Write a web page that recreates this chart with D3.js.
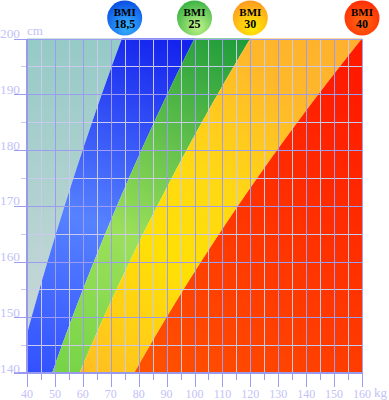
<!DOCTYPE html>
<html><head><meta charset="utf-8">
<script src="https://cdn.jsdelivr.net/npm/d3@7"></script>
<style>body{margin:0;background:#fff}svg{display:block}</style>
</head><body>
<svg id="c" width="389" height="400"></svg>
<script>
// ---- data ----
const bmiBands = [0, 18.5, 25, 30, 40, Infinity];
const bandNames = ["under", "normal", "over", "obese", "severe"];
const bmiLabels = ["18,5", "25", "30", "40"];
const bmiLabelWeights = [75, 100, 120, 160];
const weightTicks = [40, 50, 60, 70, 80, 90, 100, 110, 120, 130, 140, 150, 160];
const heightTicks = [140, 150, 160, 170, 180, 190, 200];
const heightSamples = d3.range(140, 200.001, 0.25);

const svg = d3.select("#c");
const x = d3.scaleLinear().domain([40, 160]).range([27, 362]);
const y = d3.scaleLinear().domain([140, 200]).range([373, 38.5]);
const defs = svg.append("defs");

function lin(id, x1, y1, x2, y2, stops) {
  const g = defs.append("linearGradient").attr("id", id).attr("gradientUnits", "userSpaceOnUse")
    .attr("x1", x1).attr("y1", y1).attr("x2", x2).attr("y2", y2);
  stops.forEach(s => g.append("stop").attr("offset", s[0]).attr("stop-color", s[1]));
}
function rad(id, cx, cy, stops) {
  const g = defs.append("radialGradient").attr("id", id).attr("cx", cx).attr("cy", cy).attr("r", "0.75");
  stops.forEach(s => g.append("stop").attr("offset", s[0]).attr("stop-color", s[1]));
}
lin("g-under", 0, 38, 0, 373, [[0, "#95cac6"], [1, "#cfdada"]]);
lin("g-normal", 160, 38, 40, 373, [[0, "#1424ee"], [0.55, "#5682ff"], [1, "#3352ff"]]);
lin("g-over", 240, 38, 60, 373, [[0, "#1e9c3a"], [0.6, "#9ce05a"], [1, "#76d446"]]);
lin("g-obese", 360, 38, 60, 373, [[0, "#ffb02e"], [0.2, "#ffb82a"], [0.45, "#ffd814"], [0.65, "#ffe004"], [0.85, "#ffcc18"], [1, "#ffb826"]]);
lin("g-severe", 120, 373, 362, 80, [[0, "#ff5400"], [1, "#ff1a00"]]);

rad("c0", "0.55", "0.75", [[0, "#36b4ff"], [1, "#0a4ee4"]]);
rad("c1", "0.6", "0.75", [[0, "#c0f488"], [1, "#3cb444"]]);
rad("c2", "0.55", "0.75", [[0, "#fff000"], [1, "#ff9a22"]]);
rad("c3", "0.5", "0.6", [[0, "#ff6a14"], [1, "#ff1e00"]]);

const clampW = w => Math.max(40, Math.min(160, w));
const area = d3.area()
  .y(h => y(h))
  .curve(d3.curveLinear);

bandNames.forEach((name, i) => {
  const lo = bmiBands[i], hi = bmiBands[i + 1];
  area.x0(h => x(clampW(lo * (h / 100) ** 2)))
      .x1(h => x(clampW(hi === Infinity ? 160 : hi * (h / 100) ** 2)));
  svg.append("path").datum(heightSamples).attr("d", area).attr("fill", `url(#g-${name})`);
});

// grid
const minorW = d3.range(45, 160, 10), majorW = d3.range(50, 160, 10);
const minorH = d3.range(145, 200, 10), majorH = d3.range(150, 200, 10);
const px = v => Math.round(v) + 0.5;
const grid = svg.append("g").attr("shape-rendering", "crispEdges");
grid.selectAll(".mv").data(minorW).join("line")
  .attr("x1", d => px(x(d))).attr("x2", d => px(x(d))).attr("y1", y(200)).attr("y2", y(140))
  .attr("stroke", "#cacaec").attr("stroke-width", 1);
grid.selectAll(".mh").data(minorH).join("line")
  .attr("y1", d => px(y(d))).attr("y2", d => px(y(d))).attr("x1", 21).attr("x2", x(160))
  .attr("stroke", "#cacaec").attr("stroke-width", 1);
grid.selectAll(".Mv").data(majorW).join("line")
  .attr("x1", d => px(x(d))).attr("x2", d => px(x(d))).attr("y1", y(200)).attr("y2", y(140))
  .attr("stroke", "#9c9cf0").attr("stroke-width", 1);
grid.selectAll(".Mh").data(majorH).join("line")
  .attr("y1", d => px(y(d))).attr("y2", d => px(y(d))).attr("x1", 14).attr("x2", x(160))
  .attr("stroke", "#9c9cf0").attr("stroke-width", 1);
// borders
grid.append("line").attr("x1", 14).attr("x2", x(160) + 1).attr("y1", px(y(200))).attr("y2", px(y(200)))
  .attr("stroke", "#9c9cf0");
grid.append("line").attr("x1", px(x(160))).attr("x2", px(x(160))).attr("y1", y(200)).attr("y2", y(140))
  .attr("stroke", "#a0a0f4");
grid.append("line").attr("x1", 14).attr("x2", x(160) + 1).attr("y1", y(140)).attr("y2", y(140))
  .attr("stroke", "#9999ee").attr("stroke-width", 2);
grid.append("line").attr("x1", x(40)).attr("x2", x(40)).attr("y1", y(200)).attr("y2", y(140))
  .attr("stroke", "#9999ee").attr("stroke-width", 2);
// bottom ticks
grid.selectAll(".bt").data(d3.range(40, 161, 5)).join("line")
  .attr("x1", d => px(x(d))).attr("x2", d => px(x(d)))
  .attr("y1", y(140)).attr("y2", d => d % 10 === 0 ? 387 : 380)
  .attr("stroke", "#9c9cf0").attr("stroke-width", d => d % 10 === 0 ? 1.5 : 1);

// labels
const lblColor = "#c2c2f8";
const font = "'Liberation Serif', 'DejaVu Serif', serif";
svg.selectAll(".xl").data(weightTicks).join("text")
  .attr("x", d => x(d)).attr("y", 397.5).attr("text-anchor", "middle")
  .attr("font-family", font).attr("font-size", 12).attr("fill", lblColor).text(d => d);
svg.append("text").attr("x", 374).attr("y", 396.5).attr("font-family", font).attr("font-size", 13)
  .attr("fill", lblColor).text("kg");
svg.selectAll(".yl").data(heightTicks).join("text")
  .attr("x", 0).attr("y", d => y(d) - 0.5)
  .attr("font-family", font).attr("font-size", 12).attr("fill", lblColor)
  .attr("textLength", 20).attr("lengthAdjust", "spacingAndGlyphs").text(d => d);
svg.append("text").attr("x", 27).attr("y", 35).attr("font-family", font).attr("font-size", 13)
  .attr("fill", lblColor).text("cm");

// BMI circles
const circ = svg.selectAll(".bmi").data(bmiLabels).join("g")
  .attr("transform", (d, i) => `translate(${x(bmiLabelWeights[i])},18)`);
circ.append("circle").attr("r", 17.5).attr("fill", (d, i) => `url(#c${i})`);
circ.append("text").attr("y", -2).attr("text-anchor", "middle").attr("font-family", font)
  .attr("font-weight", "bold").attr("font-size", 11).attr("fill", "#000").text("BMI");
circ.append("text").attr("y", 9.5).attr("text-anchor", "middle").attr("font-family", font)
  .attr("font-weight", "bold").attr("font-size", 12).attr("fill", "#000").text(d => d);
</script>
</body></html>
